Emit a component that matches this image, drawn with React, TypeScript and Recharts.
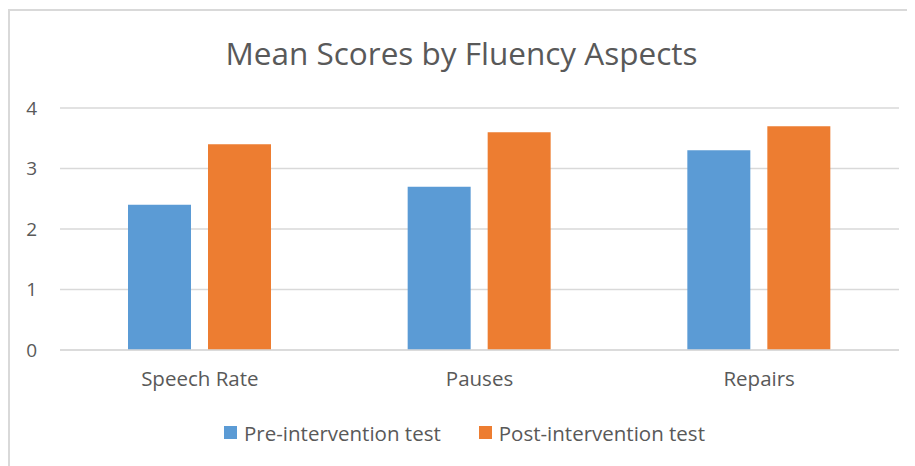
import React from "react";
import { BarChart, Bar, XAxis, YAxis, CartesianGrid, Legend } from "recharts";

const categories = ["Speech Rate", "Pauses", "Repairs"];
const preScores = [2.4, 2.7, 3.3];
const postScores = [3.4, 3.6, 3.7];
const yTicks = [0, 1, 2, 3, 4];
const seriesNames = ["Pre-intervention test", "Post-intervention test"];
const seriesColors = ["#5B9BD5", "#ED7D31"];

const data = categories.map((c, i) => ({ name: c, pre: preScores[i], post: postScores[i] }));

const FONT = "'Open Sans', sans-serif";
const TEXT = "#595959";

const LegendContent = () => (
  <div style={{ display: "flex", justifyContent: "center", alignItems: "center", fontFamily: FONT, fontSize: 20.5, color: TEXT, height: 27, paddingLeft: 22 }}>
    {seriesNames.map((n, i) => (
      <div key={n} style={{ display: "flex", alignItems: "center", marginRight: i === 0 ? 38 : 0 }}>
        <span style={{ display: "inline-block", width: 13, height: 13, background: seriesColors[i], marginRight: 7 }} />
        <span>{n}</span>
      </div>
    ))}
  </div>
);

export default function App() {
  return (
    <div style={{ position: "relative", width: 907, height: 458, overflow: "hidden", background: "#fff" }}>
      <div style={{ position: "absolute", left: 0, top: 1, width: 930, height: 480, border: "2px solid #D9D9D9", boxSizing: "border-box" }} />
      <div style={{ position: "absolute", left: 0, width: 907, top: 25, textAlign: "center", fontFamily: FONT, fontSize: 31.5, color: TEXT, lineHeight: "40px" }}>
        Mean Scores by Fluency Aspects
      </div>
      <div style={{ position: "absolute", left: 0, top: 0 }}>
        <BarChart width={907} height={458} data={data} margin={{ top: 100, right: 16, bottom: 20, left: 0 }} barSize={63} barGap={17}>
          <CartesianGrid vertical={false} stroke="#D9D9D9" strokeWidth={1.5} />
          <XAxis dataKey="name" axisLine={{ stroke: "#D9D9D9", strokeWidth: 1.5 }} tickLine={false} tickSize={0} tickMargin={21} height={69} tick={{ fill: TEXT, fontSize: 20.5, fontFamily: FONT }} />
          <YAxis domain={[0, 4]} ticks={yTicks} axisLine={false} tickLine={false} tickSize={0} tickMargin={23} width={52} tick={{ fill: TEXT, fontSize: 19, fontFamily: FONT }} />
          <Legend verticalAlign="bottom" content={<LegendContent />} />
          <Bar dataKey="pre" name={seriesNames[0]} fill={seriesColors[0]} isAnimationActive={false} />
          <Bar dataKey="post" name={seriesNames[1]} fill={seriesColors[1]} isAnimationActive={false} />
        </BarChart>
      </div>
    </div>
  );
}
